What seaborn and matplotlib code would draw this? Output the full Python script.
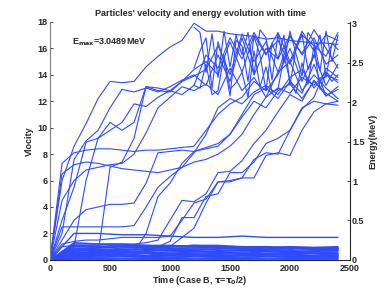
import numpy as np
import pandas as pd
import matplotlib
matplotlib.use("Agg")
import matplotlib.pyplot as plt
import seaborn as sns

# sample times for the accelerated particles, the bouncing ones and the slow ones
t_fast = [0, 100, 200, 300, 400, 500, 600, 700, 800, 900, 1000, 1100, 1200,
          1300, 1400, 1500, 1600, 1700, 1800, 1900, 2000, 2100, 2200, 2300, 2400]
t_top = [1200, 1250, 1300, 1350, 1400, 1450, 1500, 1550, 1600, 1650, 1700, 1750, 1800,
         1850, 1900, 1950, 2000, 2050, 2100, 2150, 2200, 2250, 2300, 2350, 2400]
t_slow = [0, 200, 400, 600, 800, 1000, 1200, 1400, 1600, 1800, 2000, 2200, 2400]

# velocities of accelerated particles
fast_1 = [0, 6.0, 8.6, 10.3, 12.2, 13.5, 13.4, 13.5, 14.6, 15.4, 16.1, 16.6, 17.9,
          17.3, 17.3, 17.1, 17.0, 16.9, 16.7, 16.8, 16.6, 16.5, 16.4, 16.4, 16.3]
fast_2 = [0, 0.5, 1.0, 6.0, 9.2, 10.4, 9.8, 10.4, 13.1, 13.0, 12.8, 13.5, 14.4,
          15.0, 14.0, 16.5, 14.2, 17.0, 15.5, 17.2, 15.0, 17.3, 15.8, 17.0, 16.6]
fast_3 = [0, 2.0, 7.6, 9.0, 9.8, 11.5, 12.9, 12.7, 13.0, 12.7, 13.1, 13.6, 14.0,
          13.2, 15.5, 13.5, 16.8, 14.0, 16.0, 15.2, 17.0, 15.5, 16.8, 14.8, 15.5]
fast_4 = [0, 7.3, 8.1, 8.3, 8.4, 8.4, 8.3, 8.2, 8.3, 8.3, 8.4, 8.5, 8.6,
          9.8, 11.0, 11.8, 12.3, 13.5, 12.8, 14.0, 16.0, 13.5, 15.5, 13.2, 14.8]
fast_5 = [0, 6.5, 7.2, 7.4, 7.3, 7.1, 6.9, 6.8, 6.7, 6.6, 6.8, 7.0, 8.1,
          9.5, 11.5, 12.2, 11.8, 12.7, 13.2, 12.5, 13.8, 14.4, 13.0, 14.0, 13.6]
fast_6 = [0, 4.5, 6.0, 6.8, 7.0, 7.2, 7.3, 8.0, 9.6, 11.5, 12.3, 13.1, 12.8,
          13.3, 12.5, 14.5, 12.8, 13.8, 12.3, 14.2, 15.0, 12.8, 14.0, 13.0, 12.2]
fast_7 = [0, 1.5, 3.0, 3.8, 4.0, 4.2, 4.2, 4.3, 5.8, 8.1, 8.2, 8.3, 8.2,
          8.4, 8.6, 9.5, 11.0, 12.5, 13.0, 12.2, 13.5, 12.6, 14.8, 12.4, 13.1]
fast_8 = [0.1, 0.3, 0.3, 0.3, 0.4, 0.4, 0.5, 0.6, 2.0, 4.8, 5.8, 7.3, 8.2,
          8.5, 8.8, 9.5, 10.8, 12.0, 11.5, 12.8, 13.3, 12.2, 13.5, 12.6, 12.0]
fast_9 = [0, 2.5, 2.5, 2.5, 2.5, 2.5, 2.5, 2.6, 4.0, 5.5, 6.3, 7.0, 7.4,
          7.6, 8.0, 8.6, 9.5, 11.0, 12.3, 13.0, 12.6, 13.8, 13.2, 14.2, 13.4]
fast_10 = [0, 1.0, 1.1, 1.1, 1.1, 1.2, 1.2, 1.2, 1.3, 1.5, 3.0, 4.5, 4.4,
           5.0, 6.6, 6.7, 7.5, 8.8, 9.8, 11.2, 12.5, 12.0, 13.6, 12.4, 12.9]
fast_11 = [0, 1.2, 1.4, 1.5, 1.5, 1.6, 1.7, 1.7, 1.7, 1.7, 1.8, 3.0, 4.3,
           4.6, 5.9, 6.0, 6.2, 7.6, 8.1, 8.0, 9.8, 11.5, 12.0, 11.8, 11.7]
fast_12 = [0, 0.4, 0.5, 0.5, 0.6, 0.6, 0.7, 0.8, 0.8, 0.9, 1.0, 1.7, 2.4,
           4.3, 5.9, 5.9, 6.2, 6.2, 7.9, 8.1, 7.9, 9.8, 11.2, 11.8, 12.0]
fast_13 = [0, 0.6, 0.7, 0.7, 0.8, 0.8, 0.9, 0.9, 1.0, 1.0, 1.4, 3.2, 3.2,
           4.8, 5.0, 6.6, 6.6, 7.4, 8.8, 9.2, 9.8, 11.4, 12.3, 14.5, 13.8]
fast_14 = [0, 3.0, 5.5, 8.9, 9.2, 9.8, 10.4, 11.8, 11.6, 12.3, 12.8, 12.5, 13.2,
           15.5, 14.5, 16.8, 15.2, 17.2, 15.6, 16.6, 14.8, 17.0, 16.2, 15.4, 17.2]
fast_15 = [0, 0.3, 0.3, 0.3, 0.4, 7.0, 7.4, 9.2, 13.1, 12.8, 12.7, 13.5, 13.9,
           14.4, 16.2, 14.0, 17.1, 15.0, 16.5, 14.2, 16.9, 15.6, 17.4, 16.0, 14.5]

# particles bouncing in the upper band late in the run
top_1 = [17.6, 17.2, 14.2, 17.1, 13.8, 17.3, 14.6, 17.0, 15.5, 17.2, 14.0, 17.4, 16.8,
         13.6, 17.1, 14.9, 17.3, 15.6, 13.9, 17.2, 16.5, 14.3, 17.3, 15.0, 17.0]
top_2 = [14.5, 15.8, 16.8, 13.0, 16.5, 15.0, 12.4, 16.6, 16.2, 13.5, 16.9, 15.5, 12.8,
         16.4, 15.2, 17.0, 13.2, 16.0, 17.1, 14.4, 15.4, 17.0, 13.8, 16.4, 15.9]
top_3 = [13.2, 13.0, 14.8, 12.5, 12.8, 15.5, 12.9, 13.4, 14.2, 12.3, 15.8, 13.1, 14.6,
         12.7, 12.9, 15.4, 13.6, 12.6, 14.9, 13.3, 16.2, 12.9, 14.1, 13.5, 14.0]

# velocities of particles that stay slow
slow_1 = [0, 1.0, 1.0, 1.1, 1.0, 0.9, 0.9, 0.9, 0.8, 0.9, 0.8, 0.9, 0.9]
slow_2 = [0, 0.9, 0.8, 0.8, 0.8, 0.7, 0.8, 0.8, 0.9, 0.8, 0.9, 0.8, 0.8]
slow_3 = [0, 0.7, 0.7, 0.6, 0.7, 0.7, 0.6, 0.7, 0.7, 0.7, 0.6, 0.7, 0.7]
slow_4 = [0, 0.6, 0.5, 0.6, 0.6, 0.5, 0.6, 0.6, 0.5, 0.6, 0.6, 0.6, 0.5]
slow_5 = [0, 0.5, 0.5, 0.4, 0.5, 0.5, 0.4, 0.5, 0.5, 0.4, 0.5, 0.5, 0.5]
slow_6 = [0, 0.4, 0.4, 0.4, 0.3, 0.4, 0.4, 0.3, 0.4, 0.4, 0.4, 0.3, 0.4]
slow_7 = [0, 0.3, 0.3, 0.3, 0.3, 0.3, 0.3, 0.3, 0.3, 0.3, 0.3, 0.3, 0.3]
slow_8 = [0, 0.2, 0.2, 0.25, 0.2, 0.2, 0.25, 0.2, 0.2, 0.25, 0.2, 0.2, 0.2]
slow_9 = [0, 0.15, 0.15, 0.1, 0.15, 0.15, 0.1, 0.15, 0.15, 0.1, 0.15, 0.15, 0.15]
slow_10 = [0, 0.1, 0.08, 0.1, 0.1, 0.08, 0.1, 0.1, 0.08, 0.1, 0.1, 0.08, 0.1]
slow_11 = [0, 1.2, 1.2, 1.1, 1.1, 1.0, 1.1, 1.1, 1.0, 1.0, 0.9, 0.9, 0.9]
slow_12 = [0, 2.0, 2.0, 1.9, 1.9, 1.8, 1.7, 1.7, 1.8, 1.7, 1.7, 1.7, 1.7]
slow_13 = [0, 0.8, 0.9, 1.0, 1.0, 1.0, 1.1, 1.0, 1.0, 0.9, 0.9, 0.8, 0.8]
slow_14 = [0, 0.55, 0.65, 0.6, 0.55, 0.6, 0.65, 0.55, 0.6, 0.65, 0.55, 0.6, 0.6]
slow_15 = [0, 0.35, 0.45, 0.4, 0.45, 0.35, 0.45, 0.4, 0.35, 0.45, 0.4, 0.45, 0.35]
slow_16 = [0, 0.75, 0.8, 0.75, 0.85, 0.8, 0.75, 0.85, 0.8, 0.75, 0.85, 0.8, 0.85]
slow_17 = [0, 1.3, 1.2, 1.2, 1.1, 1.1, 1.0, 1.0, 0.9, 0.95, 0.9, 0.85, 0.9]
slow_18 = [0, 0.25, 0.35, 0.3, 0.25, 0.35, 0.3, 0.25, 0.35, 0.3, 0.25, 0.35, 0.3]
slow_19 = [0, 0.05, 0.05, 0.06, 0.05, 0.05, 0.06, 0.05, 0.05, 0.06, 0.05, 0.05, 0.05]
slow_20 = [0, 0.65, 0.75, 0.7, 0.65, 0.75, 0.7, 0.65, 0.7, 0.75, 0.7, 0.65, 0.7]
slow_21 = [0, 0.45, 0.55, 0.5, 0.55, 0.45, 0.5, 0.55, 0.45, 0.5, 0.55, 0.5, 0.45]
slow_22 = [0, 0.85, 0.95, 0.9, 0.95, 0.85, 0.9, 0.95, 0.85, 0.9, 0.95, 0.9, 0.85]
slow_23 = [0, 0.2, 0.3, 0.25, 0.3, 0.2, 0.25, 0.3, 0.2, 0.25, 0.3, 0.25, 0.25]
slow_24 = [0, 1.1, 1.0, 1.05, 0.95, 1.0, 1.0, 0.95, 1.0, 0.95, 1.0, 0.95, 1.0]

fast_lines = [fast_1, fast_2, fast_3, fast_4, fast_5, fast_6, fast_7, fast_8,
              fast_9, fast_10, fast_11, fast_12, fast_13, fast_14, fast_15]
top_lines = [top_1, top_2, top_3]
slow_lines = [slow_1, slow_2, slow_3, slow_4, slow_5, slow_6, slow_7, slow_8, slow_9,
              slow_10, slow_11, slow_12, slow_13, slow_14, slow_15, slow_16, slow_17,
              slow_18, slow_19, slow_20, slow_21, slow_22, slow_23, slow_24]

energy_ticks = [0, 0.5, 1, 1.5, 2, 2.5, 3]
energy_labels = ["0", "0.5", "1", "1.5", "2", "2.5", "3"]


def to_long(times, lines, tag):
    rows = []
    for i, v in enumerate(lines):
        for t, y in zip(times, v):
            rows.append((t, y, "%s%d" % (tag, i)))
    return pd.DataFrame(rows, columns=["time", "velocity", "pid"])


df_fast = pd.concat([to_long(t_fast, fast_lines, "f"), to_long(t_top, top_lines, "t")])
df_slow = to_long(t_slow, slow_lines, "s")

sns.set_style("ticks")
plt.rcParams["font.family"] = ["Liberation Sans", "DejaVu Sans"]
plt.rcParams["font.weight"] = "bold"
plt.rcParams["xtick.direction"] = "in"
plt.rcParams["ytick.direction"] = "in"

blue = "#2f4bff"
fig = plt.figure(figsize=(3.88, 2.92), dpi=100)
ax = fig.add_axes([0.129, 0.110, 0.773, 0.815])

sns.lineplot(data=df_slow, x="time", y="velocity", units="pid", estimator=None,
             color=blue, lw=1.0, ax=ax, legend=False)
sns.lineplot(data=df_fast, x="time", y="velocity", units="pid", estimator=None,
             color=blue, lw=0.8, ax=ax, legend=False)

ax.set_xlim(0, 2500)
ax.set_ylim(0, 18)
ax.set_xticks([0, 500, 1000, 1500, 2000, 2500])
ax.set_yticks([0, 2, 4, 6, 8, 10, 12, 14, 16, 18])
ax.tick_params(labelsize=6.5, length=2.5, width=0.6, pad=1.5)
ax.tick_params(axis="x", pad=3)
ax.set_xlabel(r"Time (Case B, $\mathbf{\tau}$=$\mathbf{\tau_0}$/2)", fontsize=6.5,
              fontweight="bold", labelpad=1)
ax.set_ylabel("Vlocity", fontsize=6.5, fontweight="bold", labelpad=3)
ax.set_title("Particles' velocity and energy evolution with time", fontsize=6.5,
             fontweight="bold", pad=4)
ax.text(183, 16.3, r"E$_{\mathbf{max}}$=3.0489MeV", fontsize=6.5, fontweight="bold")

ax.spines["top"].set_visible(False)
ax.spines["right"].set_visible(False)
ax.spines["left"].set_color("#808080")
ax.spines["left"].set_linewidth(0.8)
ax.spines["bottom"].set_linewidth(0.8)

ax2 = ax.twinx()
ax2.set_ylim(0, 3.02)
ax2.set_yticks(energy_ticks)
ax2.set_yticklabels(energy_labels)
ax2.tick_params(labelsize=6.5, length=2.5, width=0.6, pad=1.5)
ax2.set_ylabel("Energy(MeV)", fontsize=6.5, fontweight="bold", labelpad=3)
for s in ["top", "left", "bottom"]:
    ax2.spines[s].set_visible(False)
ax2.spines["right"].set_linewidth(0.8)

fig.savefig("out.png", dpi=100)
